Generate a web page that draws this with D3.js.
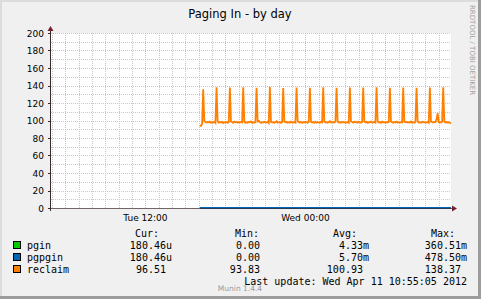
<!DOCTYPE html>
<html>
<head>
<meta charset="utf-8">
<script src="https://cdn.jsdelivr.net/npm/d3@7"></script>
<style>
  body { margin: 0; background: #f0f0f0; }
  svg { display: block; }
  text { font-family: "DejaVu Sans", sans-serif; }
  .mono { font-family: "DejaVu Sans Mono", monospace; font-size: 10px; fill: #000; white-space: pre; }
</style>
</head>
<body>
<div id="chart"></div>
<script>
// --- data ---
var title = "Paging In - by day";
var rangeStart = "2012-04-10 04:55:05";
var rangeEnd = "2012-04-11 10:55:05";
var xTickLabels = ["2012-04-10 12:00", "2012-04-11 00:00"];
var yTicks = [0, 20, 40, 60, 80, 100, 120, 140, 160, 180, 200];

// reclaim, 5 minute samples from Tue 16:05, one row per hour
var reclaimStart = "2012-04-10 16:05";
var reclaim = [
  94.6, 93.83, 95.9, 135.8, 99.1, 98.2, 97.6, 98.4, 97.9, 98.6, 97.3, 98.1,
  97.8, 98.5, 97.2, 137.9, 98.8, 97.5, 98.2, 97.7, 98.4, 97.1, 98.0, 97.6,
  98.3, 97.4, 98.1, 137.6, 99.0, 98.2, 97.3, 98.7, 97.9, 98.4, 97.5, 98.2,
  97.6, 98.3, 97.8, 138.1, 98.6, 97.2, 98.0, 97.5, 98.4, 97.9, 98.8, 97.4,
  98.1, 97.5, 98.4, 137.4, 98.9, 99.6, 98.1, 97.3, 98.0, 97.6, 98.5, 97.8,
  97.9, 98.6, 97.1, 138.37, 98.3, 97.7, 98.2, 97.4, 98.1, 99.2, 97.6, 98.0,
  98.4, 97.3, 98.0, 137.2, 98.7, 97.9, 98.3, 97.5, 98.0, 97.4, 98.6, 97.8,
  97.7, 98.2, 97.5, 137.8, 99.3, 98.0, 97.6, 98.4, 97.2, 98.1, 97.9, 98.5,
  98.0, 97.4, 98.3, 137.5, 98.6, 97.8, 98.2, 97.3, 98.7, 97.6, 98.1, 97.9,
  97.5, 98.4, 97.8, 137.9, 98.9, 97.6, 98.0, 97.4, 98.3, 99.1, 97.7, 98.2,
  98.1, 97.6, 98.5, 137.3, 98.7, 97.9, 98.1, 97.5, 98.4, 97.8, 98.0, 97.3,
  97.8, 98.3, 97.4, 137.7, 99.0, 98.2, 97.6, 98.5, 97.9, 98.1, 97.5, 98.6,
  98.2, 97.5, 98.0, 137.6, 98.8, 97.7, 98.4, 97.2, 98.1, 97.9, 98.7, 97.6,
  97.9, 98.4, 97.6, 138.0, 98.5, 97.8, 98.2, 97.4, 98.6, 97.9, 98.0, 97.5,
  98.3, 97.7, 98.1, 137.4, 98.9, 98.1, 97.5, 98.3, 97.8, 98.6, 97.4, 98.0,
  97.6, 98.2, 97.9, 137.8, 98.6, 97.9, 98.3, 97.6, 98.1, 97.7, 98.8, 97.5,
  98.1, 97.5, 98.4, 137.5, 99.1, 97.8, 98.0, 97.4, 98.5, 97.9, 98.2, 97.6,
  97.8, 98.4, 97.5, 137.7, 98.7, 98.2, 97.6, 98.3, 98.0, 101.2, 108.4, 98.1,
  98.0, 97.6, 98.3, 137.9, 98.8, 97.7, 98.2, 97.5, 98.1, 97.3, 96.51
];

// pgin / pgpgin are near zero
var pgTimes = ["2012-04-10 16:05", "2012-04-10 18:00", "2012-04-10 20:00", "2012-04-10 22:00",
  "2012-04-11 00:00", "2012-04-11 02:00", "2012-04-11 04:00", "2012-04-11 06:00",
  "2012-04-11 08:00", "2012-04-11 10:00", "2012-04-11 10:55"];
var pgin = [0, 0.004, 0.003, 0.005, 0.002, 0.001, 0.004, 0.003, 0.002, 0.005, 0.00018];
var pgpgin = [0, 0.006, 0.004, 0.006, 0.003, 0.002, 0.005, 0.004, 0.003, 0.006, 0.00018];

var legendNames = ["pgin", "pgpgin", "reclaim"];
var legendColors = ["#00cc00", "#0066b3", "#ff8000"];
var legendCur = ["180.46u", "180.46u", "96.51 "];
var legendMin = ["  0.00 ", "  0.00 ", " 93.83 "];
var legendAvg = ["  4.33m", "  5.70m", "100.93 "];
var legendMax = ["360.51m", "478.50m", "138.37 "];
var lastUpdate = "Last update: Wed Apr 11 10:55:05 2012";

// --- layout ---
var W = 481, H = 299;
var margin = { top: 33, right: 30, bottom: 91, left: 51 },
    width = 400,
    height = 175;

var parseFull = d3.timeParse("%Y-%m-%d %H:%M:%S");
var parseMin = d3.timeParse("%Y-%m-%d %H:%M");

var svg = d3.select("#chart")
    .append("svg")
    .attr("width", W)
    .attr("height", H);

// frame
svg.append("rect").attr("width", W).attr("height", H).attr("fill", "#f0f0f0");
svg.append("rect").attr("x", 0).attr("y", 0).attr("width", W).attr("height", 2).attr("fill", "#dcdcdc");
svg.append("rect").attr("x", 0).attr("y", 0).attr("width", 2).attr("height", H).attr("fill", "#dcdcdc");
svg.append("rect").attr("x", W - 3).attr("y", 0).attr("width", 3).attr("height", H).attr("fill", "#9c9c9c");
svg.append("rect").attr("x", 0).attr("y", H - 3).attr("width", W).attr("height", 3).attr("fill", "#9c9c9c");

var g = svg.append("g")
    .attr("transform", "translate(" + margin.left + "," + margin.top + ")");

var x = d3.scaleTime()
    .domain([parseFull(rangeStart), parseFull(rangeEnd)])
    .range([0, width]);

var y = d3.scaleLinear()
    .domain([0, 200])
    .range([height, 0]);

// plot background
g.append("rect").attr("width", width).attr("height", height).attr("fill", "#ffffff");

// horizontal grid, every 10
g.selectAll(".hgrid")
    .data(d3.range(10, 201, 10))
    .enter()
    .append("line")
    .attr("x1", 0).attr("x2", width)
    .attr("y1", function(d) { return Math.round(y(d)) + 0.5; })
    .attr("y2", function(d) { return Math.round(y(d)) + 0.5; })
    .attr("stroke", "#c8c8c8")
    .attr("stroke-dasharray", "1,1");

// vertical grid, every hour; major every 6h
var hours = x.ticks(d3.timeHour.every(1));
g.selectAll(".vgrid")
    .data(hours)
    .enter()
    .append("line")
    .attr("x1", function(d) { return Math.round(x(d)) + 0.5; })
    .attr("x2", function(d) { return Math.round(x(d)) + 0.5; })
    .attr("y1", 0).attr("y2", height)
    .attr("stroke", function(d) { return d.getHours() % 6 == 0 ? "#e3b4b4" : "#c8c8c8"; })
    .attr("stroke-dasharray", "1,1");

// series
var line = d3.line()
    .x(function(d) { return x(d.t); })
    .y(function(d) { return y(d.v); });

var t0 = parseMin(reclaimStart);
var reclaimData = reclaim.map(function(v, i) {
    return { t: d3.timeMinute.offset(t0, 5 * i), v: v };
});
var pginData = pgin.map(function(v, i) { return { t: parseMin(pgTimes[i]), v: v }; });
var pgpginData = pgpgin.map(function(v, i) { return { t: parseMin(pgTimes[i]), v: v }; });

g.append("path").datum(pginData).attr("d", line)
    .attr("fill", "none").attr("stroke", legendColors[0]).attr("stroke-width", 2);
g.append("path").datum(pgpginData).attr("d", line)
    .attr("fill", "none").attr("stroke", legendColors[1]).attr("stroke-width", 2);
g.append("path").datum(reclaimData).attr("d", line)
    .attr("fill", "none").attr("stroke", legendColors[2]).attr("stroke-width", 1.8)
    .attr("stroke-linejoin", "miter");

// axes lines + arrows
var axisColor = "#3a2a2a";
g.append("line").attr("x1", -0.5).attr("x2", -0.5).attr("y1", height + 3).attr("y2", -4)
    .attr("stroke", axisColor);
g.append("line").attr("x1", -3).attr("x2", width + 3).attr("y1", height + 0.5).attr("y2", height + 0.5)
    .attr("stroke", axisColor).attr("stroke-opacity", 0.7);
g.append("path").attr("d", "M-3.5,-2 L-0.5,-7 L2.5,-2 Z").attr("fill", "#7a1f2a");
g.append("path").attr("d", "M" + (width + 1) + "," + (height - 2.5) + " L" + (width + 6) + "," + (height + 0.5) + " L" + (width + 1) + "," + (height + 3.5) + " Z")
    .attr("fill", "#7a1f2a");

// y ticks and labels
g.selectAll(".ytick")
    .data(yTicks)
    .enter()
    .append("line")
    .attr("x1", -3).attr("x2", 0)
    .attr("y1", function(d) { return Math.round(y(d)) + 0.5; })
    .attr("y2", function(d) { return Math.round(y(d)) + 0.5; })
    .attr("stroke", axisColor);
g.selectAll(".ylabel")
    .data(yTicks)
    .enter()
    .append("text")
    .attr("x", -7)
    .attr("y", function(d) { return y(d) + 3.5; })
    .attr("text-anchor", "end")
    .attr("font-size", "9px")
    .attr("fill", "#000")
    .text(function(d) { return d; });

// x labels
var fmt = d3.timeFormat("%a %H:%M");
g.selectAll(".xlabel")
    .data(xTickLabels.map(function(s) { return parseMin(s); }))
    .enter()
    .append("text")
    .attr("x", function(d) { return x(d); })
    .attr("y", height + 13)
    .attr("text-anchor", "middle")
    .attr("font-size", "9px")
    .attr("fill", "#000")
    .text(fmt);

// title
svg.append("text")
    .attr("x", 240).attr("y", 18)
    .attr("text-anchor", "middle")
    .attr("font-size", "11.5px")
    .attr("fill", "#000")
    .text(title);

// watermark
svg.append("text")
    .attr("transform", "translate(470,5) rotate(90)")
    .attr("font-size", "7px")
    .attr("fill", "#a0a0a0")
    .text("RRDTOOL / TOBI OETIKER");

// legend
var cols = [
    { head: "Cur:", right: 172, hx: 147, vals: legendCur },
    { head: "Min:", right: 266, hx: 247, vals: legendMin },
    { head: "Avg:", right: 369, hx: 345, vals: legendAvg },
    { head: "Max:", right: 467, hx: 443, vals: legendMax }
];
cols.forEach(function(c) {
    svg.append("text").attr("class", "mono")
        .attr("x", c.hx).attr("y", 237).attr("text-anchor", "middle")
        .text(c.head);
});
legendNames.forEach(function(n, i) {
    var yy = 249 + i * 12;
    svg.append("rect")
        .attr("x", 13.5).attr("y", yy - 7.5).attr("width", 7).attr("height", 7)
        .attr("fill", legendColors[i]).attr("stroke", "#000").attr("stroke-width", 1);
    svg.append("text").attr("class", "mono").attr("x", 27).attr("y", yy).text(n);
    cols.forEach(function(c) {
        svg.append("text").attr("class", "mono")
            .attr("x", c.right).attr("y", yy).attr("text-anchor", "end")
            .text(c.vals[i]);
    });
});
svg.append("text").attr("class", "mono")
    .attr("x", 467).attr("y", 285).attr("text-anchor", "end")
    .text(lastUpdate);
svg.append("text")
    .attr("x", 240).attr("y", 291)
    .attr("text-anchor", "middle")
    .attr("font-size", "7.5px")
    .attr("fill", "#9a9a9a")
    .text("Munin 1.4.4");
</script>
</body>
</html>
